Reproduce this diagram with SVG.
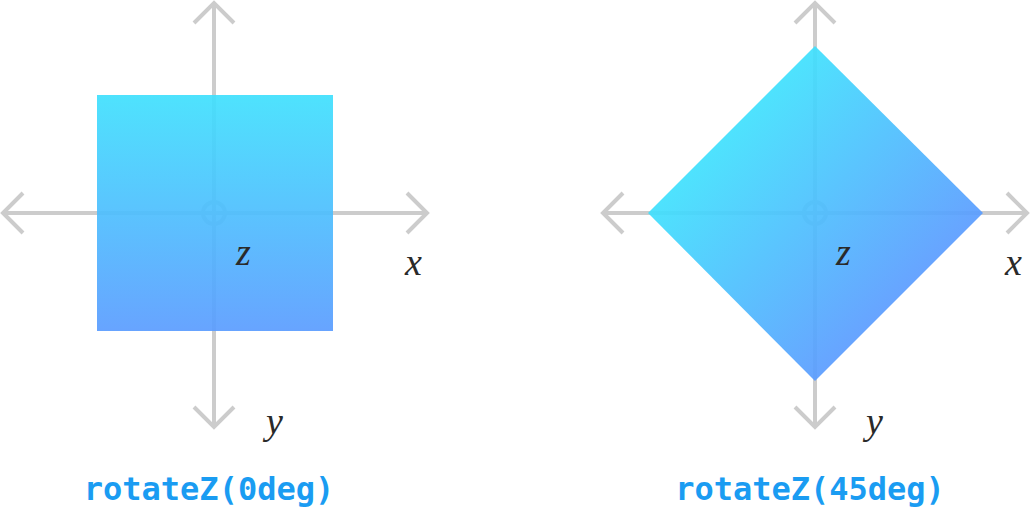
<svg xmlns="http://www.w3.org/2000/svg" width="1032" height="508" viewBox="0 0 1032 508">
<defs>
<linearGradient id="g1" x1="0" y1="0" x2="0" y2="1"><stop offset="0" stop-color="#3fe0fd"/><stop offset="1" stop-color="#5a9cff"/></linearGradient>
<linearGradient id="g2" x1="0.25" y1="0.25" x2="0.75" y2="0.75"><stop offset="0" stop-color="#3fe0fd"/><stop offset="1" stop-color="#5a9cff"/></linearGradient>
<style>
.ax{fill:none;stroke:#cccccc;stroke-width:4}
.lt{font-family:"Liberation Serif",serif;font-style:italic;font-size:38px;fill:#2a2a2a}
.cap{font-family:"DejaVu Sans Mono","Liberation Mono",monospace;font-weight:bold;font-size:32px;fill:#1a9cf2;text-anchor:middle}
</style>
</defs>
<g id="axes-left" class="ax">
<path d="M214 3V427M3 213H427M194 23L214 3L234 23M194 407L214 427L234 407M23 193L3 213L23 233M407 193L427 213L407 233"/>
<circle cx="214" cy="213" r="11"/>
</g>
<g id="square"><rect x="97" y="95" width="236" height="236" fill="url(#g1)" opacity="0.92"/></g>
<g id="axes-right" class="ax">
<path d="M815 3V427M603 213H1027M795 23L815 3L835 23M795 407L815 427L835 407M623 193L603 213L623 233M1007 193L1027 213L1007 233"/>
<circle cx="815" cy="213" r="11"/>
</g>
<g id="diamond"><polygon points="815,46 983,213 815,381 648,213" fill="url(#g2)" opacity="0.92"/></g>
<g id="labels">
<text class="lt" x="236" y="265">z</text>
<text class="lt" x="405" y="275">x</text>
<text class="lt" x="266" y="434">y</text>
<text class="lt" x="836" y="265">z</text>
<text class="lt" x="1005" y="275">x</text>
<text class="lt" x="866" y="434">y</text>
<text class="cap" x="209" y="500">rotateZ(0deg)</text>
<text class="cap" x="810" y="500">rotateZ(45deg)</text>
</g>
</svg>
